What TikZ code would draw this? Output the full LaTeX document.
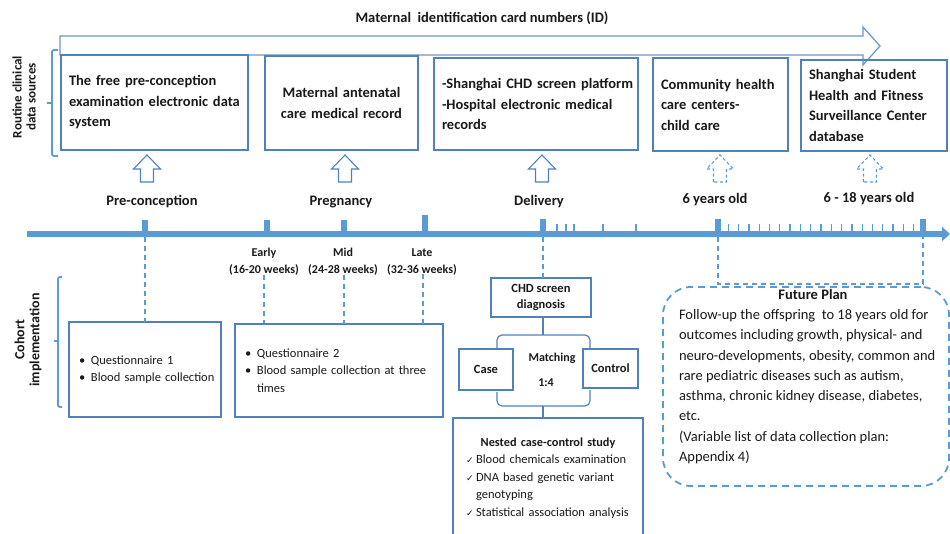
\documentclass[tikz,border=0pt]{standalone}
\usepackage{fontspec}
\setmainfont{Carlito}
\newfontfamily\symfont{DejaVu Sans}
\usetikzlibrary{arrows.meta}

\definecolor{boxblue}{RGB}{79,129,189}
\definecolor{lineblue}{RGB}{91,155,213}
\definecolor{ink}{RGB}{25,25,25}

\newcommand{\fsz}[2]{\fontsize{#1}{#2}\selectfont}
\newcommand{\chk}{\makebox[10pt][l]{\symfont\fsz{9}{10}✓}}
\newcommand{\bul}{\makebox[12pt][l]{\textbullet}}
% hollow block arrow pointing up, centred at x = #1
\newcommand{\blockup}[2]{\draw[#2] (#1-6.5,182) -- (#1-6.5,169) -- (#1-13.5,169) -- (#1,155) -- (#1+13.5,169) -- (#1+6.5,169) -- (#1+6.5,182) -- cycle;}

\begin{document}
\begin{tikzpicture}[x=1pt,y=-1pt,
  every node/.style={text=ink, inner sep=0pt, outer sep=0pt},
  srcbox/.style={draw=boxblue, line width=1.6pt, anchor=north west, inner xsep=8pt, align=left, font=\bfseries\fsz{14.5}{20.5}},
  cohbox/.style={draw=boxblue, line width=1.6pt, anchor=north west, inner xsep=10pt, align=left, font=\fsz{12.5}{17.5}},
  smallbox/.style={draw=boxblue, line width=1.6pt, anchor=north west, align=center, font=\bfseries\fsz{12.5}{16}},
  stage/.style={font=\bfseries\fsz{14.5}{17}},
  substage/.style={font=\bfseries\fsz{12}{17}, align=center},
  sidelabel/.style={font=\bfseries\fsz{13}{14}, align=center, rotate=90},
  bracketline/.style={draw=lineblue, line width=1.8pt, rounded corners=2pt},
  dashline/.style={draw=lineblue, line width=1.5pt, dash pattern=on 5pt off 4pt},
  blockarrow/.style={draw=boxblue, line width=1.1pt},
  futurearrow/.style={draw=lineblue, line width=1.1pt, dash pattern=on 3pt off 2.5pt},
  brace/.style={draw=boxblue, line width=1.2pt, rounded corners=5pt},
  axis/.style={draw=lineblue, line width=6pt},
  minortick/.style={draw=lineblue, line width=1.3pt},
  planbox/.style={draw=lineblue, line width=1.8pt, dash pattern=on 7pt off 5pt, rounded corners=28pt, anchor=north west},
]
\useasboundingbox (0,0) rectangle (950,533);
\clip (0,0) rectangle (950,533);

% ---- identification number arrow ----
\node[font=\bfseries\fsz{14.5}{17}] (idtitle) at (482,18) {Maternal\ \ identification card numbers (ID)};
\draw[draw=boxblue!85, line width=1.2pt] (60,36) -- (863,36) -- (863,27) -- (880,46) -- (863,65) -- (863,55) -- (60,55) -- cycle;

% ---- routine clinical data sources ----
\node[sidelabel] (routine) at (24,97) {Routine clinical\\data sources};
\draw[bracketline] (58,50) -- (52,50) -- (52,156) -- (58,156);
\draw[bracketline] (52,103) -- (47,103);

\node[srcbox, text width=171pt, minimum height=95pt] (src1) at (61,55)
  {The free pre-conception\\\mbox{examination electronic data}\\system};
\node[srcbox, text width=137pt, minimum height=94pt, align=center] (src2) at (265,56)
  {Maternal antenatal\\care medical record};
\node[srcbox, text width=188pt, minimum height=92pt] (src3) at (434,58)
  {\mbox{-Shanghai CHD screen platform}\\\mbox{-Hospital electronic medical}\\records};
\node[srcbox, text width=119pt, minimum height=93pt] (src4) at (653,58)
  {Community health\\care centers-\\child care};
\node[srcbox, text width=130pt, minimum height=91pt] (src5) at (801,60)
  {Shanghai Student\\Health and Fitness\\\mbox{Surveillance Center}\\database};

% ---- arrows from the stages to the data sources ----
\blockup{147}{blockarrow}
\blockup{345}{blockarrow}
\blockup{542}{blockarrow}
\blockup{720}{futurearrow}
\blockup{870}{futurearrow}

% ---- stage labels ----
\node[stage] (lpre) at (152,202) {Pre-conception};
\node[stage] (lpreg) at (341,202) {Pregnancy};
\node[stage] (ldel) at (539,202) {Delivery};
\node[stage] (lsix) at (715,200) {6 years old};
\node[stage] (lteen) at (869,199) {6 - 18 years old};

% ---- time axis ----
\draw[axis, -{Triangle[length=8pt,width=14pt]}] (27,234) -- (950,234);
\foreach \x/\top in {145/220, 267/220, 344/220, 425/215, 543/219, 718/219, 923/219}
  \fill[lineblue] (\x-3,\top) rectangle (\x+3,234);
\foreach \x in {557,566,574,603,636}
  \draw[minortick] (\x,224) -- (\x,234);
\foreach \k in {1,...,19}
  \draw[minortick] (718+\k*10.3,224) -- (718+\k*10.3,234);

\coordinate (tpre) at (145,237);
\coordinate (tdel) at (543,237);
\coordinate (tsix) at (718,237);
\coordinate (tend) at (923,237);

% ---- pregnancy sub-stages ----
\node[substage] (early) at (264,262) {Early\\(16-20 weeks)};
\node[substage] (mid) at (343,262) {Mid\\(24-28 weeks)};
\node[substage] (late) at (422,262) {Late\\(32-36 weeks)};

% ---- cohort implementation ----
\node[sidelabel, font=\bfseries\fsz{14}{15}] (cohort) at (28,340) {Cohort\\implementation};
\draw[bracketline] (62,277) -- (58,277) -- (58,407) -- (62,407);
\draw[bracketline] (58,341) -- (54,341);

\node[cohbox, text width=132pt, minimum height=95pt] (q1) at (69,322)
  {\bul Questionnaire 1\\\mbox{\bul Blood sample collection}};
\node[cohbox, text width=188pt, minimum height=93pt] (q2) at (235,324)
  {\bul Questionnaire 2\\\mbox{\bul Blood sample collection at three}\\\hspace*{12pt}times};

\draw[dashline] (tpre) -- (tpre |- q1.north);
\draw[dashline] ([yshift=1pt]early.south) -- ([yshift=1pt]early.south |- q2.north);
\draw[dashline] ([xshift=1pt,yshift=1pt]mid.south) -- ([xshift=1pt]mid.south |- q2.north);
\draw[dashline] ([xshift=1pt,yshift=1pt]late.south) -- ([xshift=1pt]late.south |- q2.north);

% ---- nested case-control study ----
\node[smallbox, minimum width=100pt, minimum height=39pt] (chd) at (491,278) {CHD screen\\diagnosis};
\draw[dashline] (tdel) -- (tdel |- chd.north);

\node[smallbox, minimum width=54pt, minimum height=41pt] (case) at (459,349) {Case};
\node[smallbox, minimum width=55pt, minimum height=39pt] (control) at (583,349) {Control};
\node[font=\bfseries\fsz{12}{14}] (matching) at (552,358) {Matching};
\node[font=\bfseries\fsz{12}{14}] (ratio) at (546,383) {1:4};

\draw[brace] (497,348) -- (497,335) -- (590,335) -- (590,348);
\draw[brace] (chd.south -| 543,0) -- (543,335);

\node[draw=boxblue, line width=1.6pt, anchor=north west, inner xsep=13pt, text width=164pt,
      minimum height=120pt, align=left, font=\fsz{12.5}{17.5}] (nested) at (453,418)
  {\makebox[164pt]{\bfseries\fsz{12.3}{17.5}Nested case-control study}\\
   \chk Blood chemicals examination\\
   \chk DNA based genetic variant\\
   \hspace*{10pt}genotyping\\
   \chk Statistical association analysis};

\draw[brace] (497,392) -- (497,406) -- (590,406) -- (590,390);
\draw[brace] (543,406) -- (nested.north -| 543,0);

% ---- future follow-up ----
\draw[dashline] (tsix) -- (718,284) -- (923,284) -- (tend);
\node[planbox, minimum width=286pt, minimum height=199pt] (plan) at (663,287) {};
\node[anchor=north west, align=left, font=\fsz{14.5}{20.3}] (plantext) at (679,289)
  {\makebox[268pt]{\bfseries Future Plan}\\
   Follow-up the offspring\ \ to 18 years old for\\
   outcomes including growth, physical- and\\
   neuro-developments, obesity, common and\\
   rare pediatric diseases such as autism,\\
   asthma, chronic kidney disease, diabetes,\\
   etc.\\
   (Variable list of data collection plan:\\
   Appendix 4)};
\end{tikzpicture}
\end{document}
